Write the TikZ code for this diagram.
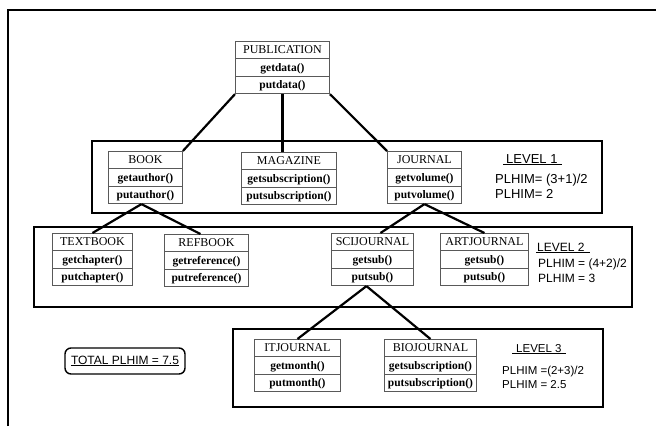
\documentclass[tikz,border=0pt]{standalone}
\usepackage{fontspec}
\setmainfont{Liberation Serif}
\newfontfamily\lvlfont{Liberation Sans}
\usetikzlibrary{shapes.multipart}

\newcommand{\crow}{\rule[-4.5pt]{0pt}{16.5pt}}
\newcommand{\ctitle}[1]{\crow\fontsize{12}{13}\selectfont #1}
\newcommand{\cmeth}[1]{\crow\bfseries #1}

\tikzset{
  classbox/.style={rectangle split, rectangle split parts=3, draw=black!65,
    line width=0.9pt, inner xsep=1pt, inner ysep=0pt, align=center,
    anchor=north west, font=\fontsize{11.5}{13}\selectfont},
  link/.style={line width=2.2pt},
  levelbox/.style={line width=1.9pt},
  lvltext/.style={anchor=base west, inner sep=0pt},
}

\begin{document}
\begin{tikzpicture}[x=1pt,y=-1pt]
\useasboundingbox (0,0) rectangle (656,426);

% outer frame
\draw [line width=1.8pt] (8,426) -- (8,10) -- (656,10);

% level frames
\draw [levelbox] (92,141) rectangle (602,213);
\draw [levelbox] (34,227) rectangle (632,307);
\draw [levelbox] (233,329) rectangle (603,407);

% classes
\node[classbox, text width=92pt] (pub) at (235,41) {\ctitle{PUBLICATION}\nodepart{two}\cmeth{getdata()}\nodepart{three}\cmeth{putdata()}};
\node[classbox, text width=72pt] (book) at (108,151) {\ctitle{BOOK}\nodepart{two}\cmeth{getauthor()}\nodepart{three}\cmeth{putauthor()}};
\node[classbox, text width=93pt] (mag) at (241,152) {\ctitle{MAGAZINE}\nodepart{two}\cmeth{getsubscription()}\nodepart{three}\cmeth{putsubscription()}};
\node[classbox, text width=72pt] (jour) at (387,151) {\ctitle{JOURNAL}\nodepart{two}\cmeth{getvolume()}\nodepart{three}\cmeth{putvolume()}};
\node[classbox, text width=78pt] (text) at (52,233) {\ctitle{TEXTBOOK}\nodepart{two}\cmeth{getchapter()}\nodepart{three}\cmeth{putchapter()}};
\node[classbox, text width=82pt] (ref) at (164,234) {\ctitle{REFBOOK}\nodepart{two}\cmeth{getreference()}\nodepart{three}\cmeth{putreference()}};
\node[classbox, text width=80pt] (sci) at (331,233) {\ctitle{SCIJOURNAL}\nodepart{two}\cmeth{getsub()}\nodepart{three}\cmeth{putsub()}};
\node[classbox, text width=86pt] (art) at (440,233) {\ctitle{ARTJOURNAL}\nodepart{two}\cmeth{getsub()}\nodepart{three}\cmeth{putsub()}};
\node[classbox, text width=84pt] (it) at (254,339) {\ctitle{ITJOURNAL}\nodepart{two}\cmeth{getmonth()}\nodepart{three}\cmeth{putmonth()}};
\node[classbox, text width=90pt] (bio) at (384,339) {\ctitle{BIOJOURNAL}\nodepart{two}\cmeth{getsubscription()}\nodepart{three}\cmeth{putsubscription()}};

% links
\draw [link] (pub.south west) -- (book.north east);
\draw [link] (pub.south) -- (pub.south |- mag.north);
\draw [link] (pub.south east) -- (jour.north west);
\draw [link] ([xshift=-4pt]book.south) -- (text.north);
\draw [link] ([xshift=-4pt]book.south) -- ([xshift=-6pt]ref.north);
\draw [link] (jour.south) -- ([xshift=8pt]sci.north);
\draw [link] (jour.south) -- (art.north);
\draw [link] ([xshift=-6pt]sci.south) -- (it.north);
\draw [link] ([xshift=-6pt]sci.south) -- (bio.north);

% level notes
\begin{scope}[font=\lvlfont\fontsize{13}{15}\selectfont]
\node[lvltext] (lvla) at (503,163) {\underline{\kern3pt LEVEL 1\kern4pt}};
\node[lvltext] (lvlaf) at (495,183) {PLHIM= (3+1)/2};
\node[lvltext] (lvlar) at (495,198) {PLHIM= 2};
\end{scope}
\begin{scope}[font=\lvlfont\fontsize{12}{15}\selectfont]
\node[lvltext] (lvlb) at (536,251) {\underline{\kern1pt LEVEL 2\kern5pt}};
\node[lvltext] (lvlbf) at (538,267) {PLHIM = (4+2)/2};
\node[lvltext] (lvlbr) at (538,282) {PLHIM = 3};
\end{scope}
\begin{scope}[font=\lvlfont\fontsize{11.5}{14}\selectfont]
\node[lvltext] (lvlc) at (512,352) {\underline{\kern4pt LEVEL 3\kern4pt}};
\node[lvltext] (lvlcf) at (502,374) {PLHIM =(2+3)/2};
\node[lvltext] (lvlcr) at (502,388) {PLHIM = 2.5};
\end{scope}

% total
\node[draw, line width=1.4pt, rounded corners=6pt, minimum width=120pt,
  minimum height=26pt, inner sep=0pt, font=\lvlfont\fontsize{12}{14}\selectfont]
  (total) at (125,361) {\underline{TOTAL PLHIM =\ 7.5}};

\end{tikzpicture}
\end{document}
